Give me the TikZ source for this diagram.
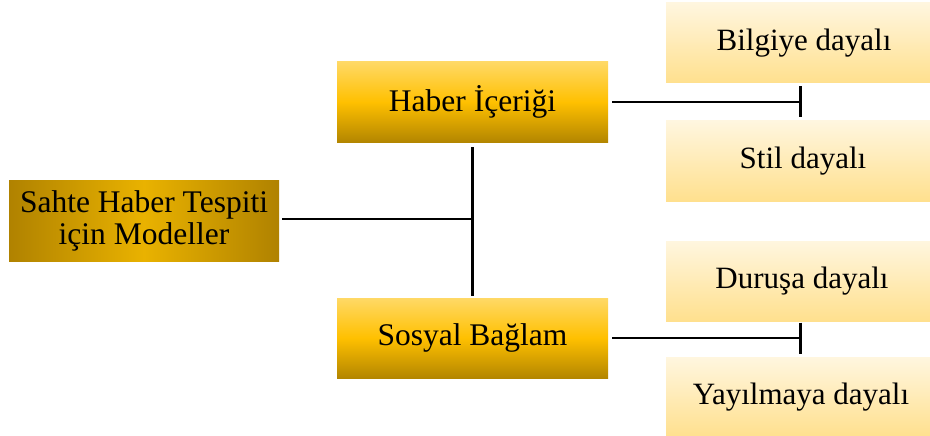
\documentclass[tikz,border=0pt]{standalone}
\usepackage{fontspec}
\setmainfont{Liberation Serif}
\usetikzlibrary{arrows.meta}
\definecolor{rootdark}{HTML}{B08200}
\definecolor{rootmid}{HTML}{E9B200}
\definecolor{midtop}{HTML}{FFD966}
\definecolor{midmid}{HTML}{FFC000}
\definecolor{midbot}{HTML}{B38600}
\definecolor{leaftop}{HTML}{FFF6DF}
\definecolor{leafbot}{HTML}{FFE08E}
\tikzset{
  rootbox/.style={minimum width=270pt, minimum height=81pt, inner sep=0pt, outer sep=0pt,
    left color=rootdark, right color=rootdark, middle color=rootmid, align=center,
    font=\fontsize{31.5}{32}\selectfont},
  midbox/.style={minimum width=271pt, minimum height=80pt, inner sep=0pt, outer sep=0pt,
    top color=midtop, bottom color=midbot, middle color=midmid,
    font=\fontsize{31.5}{36}\selectfont},
  leafbox/.style={minimum width=264pt, minimum height=80pt, inner sep=0pt, outer sep=0pt,
    top color=leaftop, bottom color=leafbot,
    font=\fontsize{31}{36}\selectfont},
  conn/.style={line width=2.9pt, black},
  barconn/.style={conn, -{Bar[width=31pt, line width=2.9pt]}}
}
\begin{document}
\begin{tikzpicture}[x=1pt, y=-1pt]
\useasboundingbox (0,0) rectangle (930,436);
\node[rootbox] (root) at (144,220.5) {Sahte Haber Tespiti\\için Modeller};
\node[midbox] (haber) at (472.5,102) {Haber İçeriği};
\node[midbox] (sosyal) at (472.5,338) {Sosyal Bağlam};
\node[leafbox] (bilgi) at (798,43) {\hspace*{12pt}Bilgiye dayalı};
\node[leafbox] (stil) at (798,161) {\hspace*{10pt}Stil dayalı};
\node[leafbox] (durus) at (798,281) {\hspace*{8pt}Duruşa dayalı};
\node[leafbox] (yayil) at (798,397) {\hspace*{6pt}Yayılmaya dayalı};
\coordinate (hubtop) at (472.5,147);
\coordinate (hubbot) at (472.5,296);
\coordinate (hubmid) at (472.5,219);
\coordinate (t1) at (802,102);
\coordinate (t2) at (802,338);
\draw[conn] (hubtop) -- (hubbot);
\draw[conn, shorten <=3pt] (root.east |- hubmid) -- (hubmid);
\draw[barconn, shorten <=4pt] (haber.east) -- (t1);
\draw[barconn, shorten <=4pt] (sosyal.east) -- (t2);
\end{tikzpicture}
\end{document}
